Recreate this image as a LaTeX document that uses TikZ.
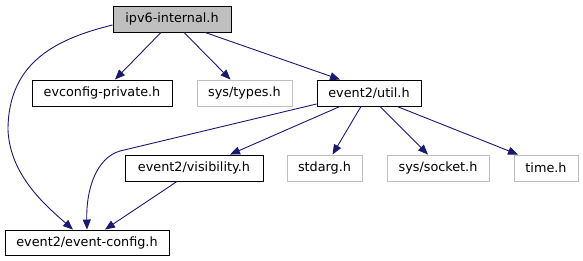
\documentclass[tikz,border=0pt]{standalone}
\usepackage{fontspec}
\setmainfont{DejaVu Sans}
\usetikzlibrary{arrows.meta}
\definecolor{edgeblue}{HTML}{191970}
\definecolor{greyline}{HTML}{BFBFBF}
\tikzset{
  box/.style={draw=black, line width=0.9pt, minimum height=26pt, inner sep=0pt, font=\fontsize{12.8}{15}\selectfont},
  sysbox/.style={box, draw=greyline},
  edge/.style={draw=edgeblue, line width=0.9pt, -{Triangle[length=10pt,width=8pt]}, fill=none},
}
\begin{document}
\begin{tikzpicture}[x=1pt,y=-1pt]
\useasboundingbox (0,0) rectangle (583,261);
\node[box, fill=greyline, minimum width=118pt] (ipv6) at (172,19) {ipv6-internal.h};
\node[box, minimum width=140pt] (evcp) at (102,93) {evconfig-private.h};
\node[sysbox, minimum width=95pt] (types) at (244.5,93) {sys/types.h};
\node[box, minimum width=104pt] (util) at (369,93) {event2/util.h};
\node[box, minimum width=138pt] (vis) at (194,168) {event2/visibility.h};
\node[sysbox, minimum width=75pt] (stdarg) at (324.5,168) {stdarg.h};
\node[sysbox, minimum width=102pt] (socket) at (438,168) {sys/socket.h};
\node[sysbox, minimum width=64pt] (time) at (546,168) {time.h};
\node[box, minimum width=164pt, minimum height=25pt] (evcfg) at (87,242.5) {event2/event-config.h};

\draw[edge] ([xshift=-11pt]ipv6.south) -- ([xshift=13pt]evcp.north);
\draw[edge] ([xshift=12pt]ipv6.south) -- ([xshift=-14pt]types.north);
\draw[edge] ([xshift=33pt]ipv6.south) -- ([xshift=-29pt]util.north);
\draw[edge] ([yshift=-6pt]ipv6.west) .. controls (60,38) and (8,60) .. (8,130)
  .. controls (10,175) and (45,205) .. ([xshift=-14pt]evcfg.north);
\draw[edge] ([yshift=-11pt]util.west) -- (120,151)
  .. controls (96,158) and (86,190) .. ([xshift=0pt]evcfg.north);
\draw[edge] ([xshift=-29pt]util.south) -- ([xshift=36pt]vis.north);
\draw[edge] ([xshift=-8pt]util.south) -- ([xshift=8pt]stdarg.north);
\draw[edge] ([xshift=11pt]util.south) -- ([xshift=-10pt]socket.north);
\draw[edge] ([xshift=28pt]util.south) -- ([xshift=-28pt]time.north);
\draw[edge] ([xshift=-17pt]vis.south) -- ([xshift=18pt]evcfg.north);
\end{tikzpicture}
\end{document}
